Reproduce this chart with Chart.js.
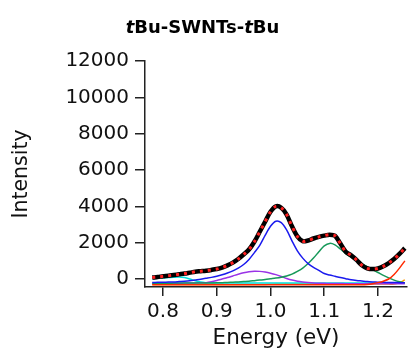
<!DOCTYPE html>
<html>
<head>
<meta charset="utf-8">
<script src="https://cdn.jsdelivr.net/npm/chart.js@4/dist/chart.umd.min.js"></script>
<style>
  html, body { margin: 0; padding: 0; background: #fff; }
  #wrap { position: relative; width: 408px; height: 351px; }
  #title {
    position: absolute; left: 0; top: 17px; width: 405px;
    text-align: center; font: bold 18px "DejaVu Sans", sans-serif;
    line-height: 20px; color: #000;
  }
</style>
</head>
<body>
<div id="wrap">
  <canvas id="chart" width="408" height="351"></canvas>
  <div id="title"><i>t</i>Bu-SWNTs-<i>t</i>Bu</div>
</div>
<script>
// energy axis (eV)
const energy = [0.78,0.79,0.80,0.81,0.82,0.83,0.84,0.85,0.86,0.87,
  0.88,0.89,0.90,0.91,0.92,0.93,0.94,0.95,0.96,0.97,
  0.98,0.99,1.00,1.01,1.02,1.03,1.04,1.05,1.06,1.07,
  1.08,1.09,1.10,1.11,1.12,1.13,1.14,1.15,1.16,1.17,
  1.18,1.19,1.20,1.21,1.22,1.23,1.24,1.25];

// measured spectrum and fit
const measured = [80,110,150,180,220,260,300,350,400,430,
  460,500,550,630,750,900,1100,1350,1620,2050,
  2600,3150,3700,4000,3920,3550,2900,2350,2080,2120,
  2230,2320,2390,2440,2380,1950,1500,1300,1050,760,
  590,545,580,700,880,1100,1380,1700];
const fit = measured;

// fitted components
const blue = [-190,-185,-180,-170,-160,-140,-120,-90,-50,-10,
  40,90,150,230,330,450,600,800,1080,1450,
  1850,2400,2900,3180,3100,2700,2100,1550,1150,850,
  640,480,300,220,150,80,20,-40,-80,-110,
  -140,-160,-175,-185,-190,-195,-200,-200];
const purple = [-250,-250,-245,-240,-235,-230,-225,-220,-215,-210,
  -200,-150,-80,0,80,170,260,340,400,430,
  420,380,320,240,140,30,-60,-120,-160,-190,
  -215,-230,-240,-245,-250,-250,-255,-255,-260,-260,
  -260,-260,-260,-260,-260,-260,-260,-260];
const green = [-230,-230,-230,-230,-225,-225,-225,-220,-220,-220,
  -215,-215,-210,-200,-190,-175,-160,-140,-120,-90,
  -60,-30,10,50,100,170,270,420,600,850,
  1150,1500,1820,1960,1880,1650,1400,1200,1030,850,
  680,520,360,200,60,-60,-150,-200];
const cyan = [20,40,60,80,100,110,80,0,-100,-170,
  -200,-210,-215,-220,-220,-220,-220,-220,-220,-220,
  -220,-220,-220,-220,-220,-220,-220,-220,-220,-220,
  -220,-220,-220,-220,-220,-220,-220,-220,-220,-220,
  -220,-220,-220,-220,-220,-220,-220,-220];
const orange = [-300,-300,-300,-300,-300,-300,-300,-300,-300,-300,
  -300,-300,-300,-300,-300,-300,-300,-300,-300,-300,
  -300,-300,-290,-280,-280,-280,-280,-280,-280,-280,
  -280,-280,-280,-280,-280,-280,-280,-280,-280,-280,
  -280,-280,-280,-280,-280,-280,-200,-50];
const red = [-320,-320,-320,-320,-320,-320,-320,-320,-320,-320,
  -320,-320,-320,-320,-320,-320,-320,-320,-320,-320,
  -320,-320,-320,-320,-320,-320,-320,-320,-320,-320,
  -320,-320,-320,-320,-320,-320,-320,-320,-320,-320,
  -300,-260,-200,-120,0,250,600,1000];

const yTicks = [0,2000,4000,6000,8000,10000,12000];
const xTicks = [0.8,0.9,1.0,1.1,1.2];

function pts(ys){
  return energy.map((x, i) => ({x: x, y: ys[i]}));
}

function line(ys, color, width, extra){
  return Object.assign({
    data: pts(ys),
    borderColor: color,
    borderWidth: width,
    pointRadius: 0,
    tension: 0.3,
    fill: false
  }, extra || {});
}

const axisFont = {family: "DejaVu Sans", size: 20};

new Chart(document.getElementById('chart').getContext('2d'), {
  type: 'line',
  data: {
    datasets: [
      line(fit, '#ff2020', 3, {borderDash: [3, 5]}),
      line(measured, '#000000', 4.5),
      line(red, '#ff2a00', 1.5),
      line(blue, '#1a1aee', 1.5),
      line(green, '#17995a', 1.5),
      line(purple, '#9a33e6', 1.5),
      line(cyan, '#00dede', 1.5),
      line(orange, '#ff9a00', 1.5)
    ]
  },
  options: {
    responsive: false,
    animation: false,
    layout: {padding: {top: 61, right: 1, left: 0, bottom: 0}},
    plugins: {legend: {display: false}, tooltip: {enabled: false}},
    scales: {
      x: {
        type: 'linear',
        min: 0.7665,
        max: 1.254,
        afterFit: s => { s.height = 64; },
        afterBuildTicks: s => { s.ticks = xTicks.map(v => ({value: v})); },
        ticks: {
          font: axisFont, color: '#111', padding: 4,
          callback: v => v.toFixed(1)
        },
        grid: {drawOnChartArea: false, drawTicks: true, tickLength: 9, color: '#222', lineWidth: 1.5},
        border: {display: true, color: '#222', width: 1.5},
        title: {
          display: true, text: 'Energy (eV)', color: '#111',
          font: {family: "DejaVu Sans", size: 21.5},
          padding: {top: 0, bottom: 0}
        }
      },
      y: {
        min: -440,
        max: 12000,
        afterFit: s => { s.width = 145; },
        afterBuildTicks: s => { s.ticks = yTicks.map(v => ({value: v})); },
        ticks: {
          font: axisFont, color: '#111', padding: 6,
          callback: v => String(v)
        },
        grid: {drawOnChartArea: false, drawTicks: true, tickLength: 10, color: '#222', lineWidth: 1.5},
        border: {display: true, color: '#222', width: 1.5},
        title: {
          display: true, text: 'Intensity', color: '#111',
          font: {family: "DejaVu Sans", size: 20.5},
          padding: {top: 9, bottom: 0}
        }
      }
    }
  }
});
</script>
</body>
</html>
